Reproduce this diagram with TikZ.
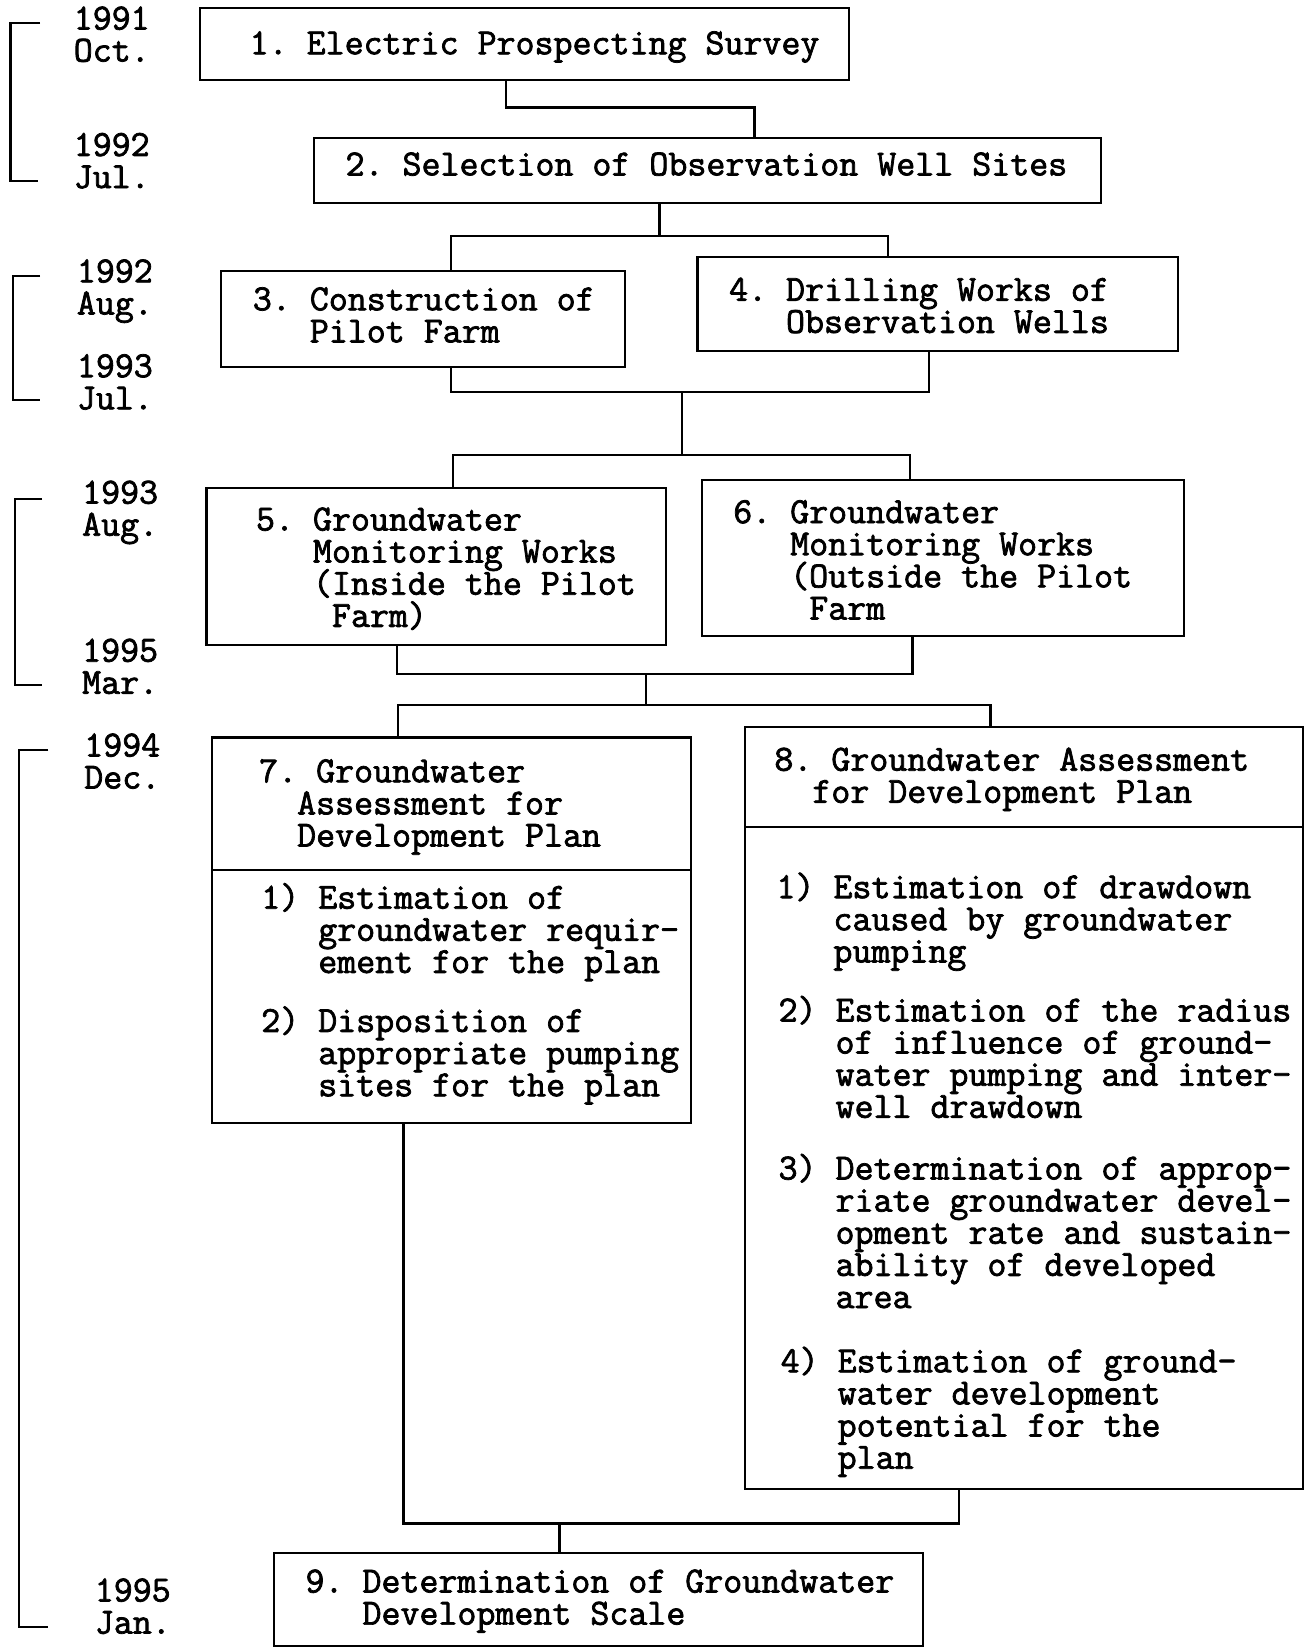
\documentclass[tikz,border=0pt]{standalone}
\usepackage{fontspec}
\newfontfamily\tw[FakeBold=2]{Latin Modern Mono}
\newlength\cw
\newcommand\twfont{\tw\fontsize{35}{30.5}\selectfont\frenchspacing\lineskiplimit=-100pt\relax\settowidth{\cw}{0}}
\newcommand\ind[1]{\hspace*{#1\cw}}
\newcommand\tstrut{\rule{0pt}{26pt}}
\begin{document}
\begin{tikzpicture}[x=1pt,y=-1pt,
  box/.style={draw, inner sep=0pt, outer sep=0pt, line width=2pt},
  txt/.style={anchor=north west, inner sep=0pt, outer sep=0pt, align=left,
    font=\twfont},
  con/.style={line width=2.2pt},
  brk/.style={line width=2pt}]
\useasboundingbox (0,0) rectangle (1241,1568);

% boxes
\node[box, minimum width=616, minimum height=68] (b1) at (498,42) {};
\node[box, minimum width=747, minimum height=62] (b2) at (671.5,162) {};
\node[box, minimum width=383, minimum height=91] (b3) at (401.5,302.5) {};
\node[box, minimum width=456, minimum height=89] (b4) at (890,288.5) {};
\node[box, minimum width=436, minimum height=149] (b5) at (414,537.5) {};
\node[box, minimum width=458, minimum height=148] (b6) at (895,530) {};
\node[box, minimum width=455, minimum height=366] (b7) at (428.5,883) {};
\node[box, minimum width=530, minimum height=723] (b8) at (972,1051.5) {};
\node[box, minimum width=616, minimum height=88] (b9) at (568,1518) {};

% dividers
\coordinate (v7) at (0,826);
\coordinate (v8) at (0,785);
\draw[brk] (b7.west |- v7) -- (b7.east |- v7);
\draw[brk] (b8.west |- v8) -- (b8.east |- v8);

% texts
\node[txt] (t1) at (237,25.5) {\tstrut 1. Electric Prospecting Survey};
\node[txt] (t2) at (328,140.5) {\tstrut 2. Selection of Observation Well Sites};
\node[txt] (t3) at (240,268.5) {\tstrut 3. Construction of\\\ind{3}Pilot Farm};
\node[txt] (t4) at (692,259.5) {\tstrut 4. Drilling Works of\\\ind{3}Observation Wells};
\node[txt] (t5) at (243,477.5) {\tstrut 5. Groundwater\\\ind{3}Monitoring Works\\\ind{3}(Inside the Pilot\\\ind{4}Farm)};
\node[txt] (t6) at (696,470.5) {\tstrut 6. Groundwater\\\ind{3}Monitoring Works\\\ind{3}(Outside the Pilot\\\ind{4}Farm};
\node[txt] (t7) at (246,716.5) {\tstrut 7. Groundwater\\\ind{2}Assessment for\\\ind{2}Development Plan};
\node[txt] (t7a) at (248,836.5) {\tstrut 1) Estimation of\\\ind{3}groundwater requir-\\\ind{3}ement for the plan};
\node[txt] (t7b) at (248,953.5) {\tstrut 2) Disposition of\\\ind{3}appropriate pumping\\\ind{3}sites for the plan};
\node[txt] (t8) at (735,705.5) {\tstrut 8. Groundwater Assessment\\\ind{2}for Development Plan};
\node[txt] (t8a) at (737,826.5) {\tstrut 1) Estimation of drawdown\\\ind{3}caused by groundwater\\\ind{3}pumping};
\node[txt] (t8b) at (739,943.5) {\tstrut 2) Estimation of the radius\\\ind{3}of influence of ground-\\\ind{3}water pumping and inter-\\\ind{3}well drawdown};
\node[txt] (t8c) at (739,1093.5) {\tstrut 3) Determination of approp-\\\ind{3}riate groundwater devel-\\\ind{3}opment rate and sustain-\\\ind{3}ability of developed\\\ind{3}area};
\node[txt] (t8d) at (741,1276.5) {\tstrut 4) Estimation of ground-\\\ind{3}water development\\\ind{3}potential for the\\\ind{3}plan};
\node[txt] (t9) at (290,1485.5) {\tstrut 9. Determination of Groundwater\\\ind{3}Development Scale};

% dates
\node[txt] (d1) at (70,2) {\tstrut 1991\\Oct.};
\node[txt] (d2) at (70,122) {\tstrut 1992\\Jul.};
\node[txt] (d3) at (73,242) {\tstrut 1992\\Aug.};
\node[txt] (d4) at (73,332) {\tstrut 1993\\Jul.};
\node[txt] (d5) at (78,452) {\tstrut 1993\\Aug.};
\node[txt] (d6) at (78,602) {\tstrut 1995\\Mar.};
\node[txt] (d7) at (80,692) {\tstrut 1994\\Dec.};
\node[txt] (d8) at (90,1494) {\tstrut 1995\\Jan.};

% brackets
\draw[brk] (38,22) -- (10,22) -- (10,172) -- (36,172);
\draw[brk] (38,262) -- (12,262) -- (12,380) -- (38,380);
\draw[brk] (40,474) -- (14,474) -- (14,650) -- (40,650);
\draw[brk] (46,712) -- (18,712) -- (18,1544) -- (46,1544);

% connectors
\coordinate (a1) at (480,102); \coordinate (a2) at (716,102);
\draw[con] (b1.south -| a1) -- (a1) -- (a2) -- (b2.north -| a2);

\coordinate (c0) at (626,224); \coordinate (c1) at (428,224); \coordinate (c2) at (843,224);
\draw[con] (b2.south -| c0) -- (c0);
\draw[con] (b3.north -| c1) -- (c1) -- (c2) -- (b4.north -| c2);

\coordinate (e0) at (647,372); \coordinate (e1) at (428,372); \coordinate (e2) at (882,372);
\draw[con] (b3.south -| e1) -- (e1) -- (e2) -- (b4.south -| e2);
\coordinate (f0) at (647,432); \coordinate (f1) at (430,432); \coordinate (f2) at (864,432);
\draw[con] (e0) -- (f0);
\draw[con] (b5.north -| f1) -- (f1) -- (f2) -- (b6.north -| f2);

\coordinate (g0) at (613,640); \coordinate (g1) at (377,640); \coordinate (g2) at (866,640);
\draw[con] (b5.south -| g1) -- (g1) -- (g2) -- (b6.south -| g2);
\coordinate (h0) at (613,669); \coordinate (h1) at (378,669); \coordinate (h2) at (940,669);
\draw[con] (g0) -- (h0);
\draw[con] (b7.north -| h1) -- (h1) -- (h2) -- (b8.north -| h2);

\coordinate (k0) at (531,1446); \coordinate (k1) at (383,1446); \coordinate (k2) at (910,1446);
\draw[con] (b7.south -| k1) -- (k1) -- (k2) -- (b8.south -| k2);
\draw[con] (k0) -- (b9.north -| k0);
\end{tikzpicture}
\end{document}
